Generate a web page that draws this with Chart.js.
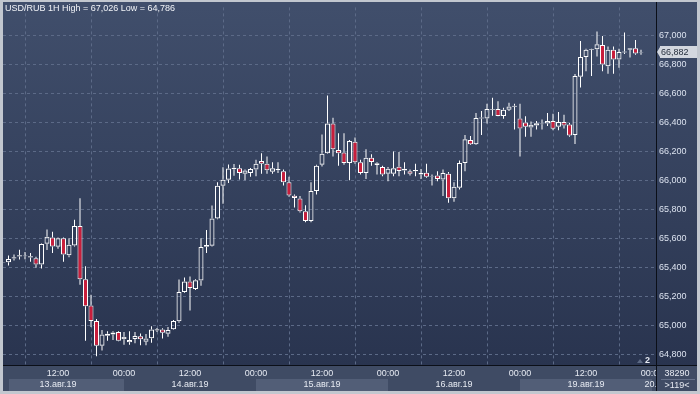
<!DOCTYPE html>
<html><head><meta charset="utf-8">
<script src="https://cdn.jsdelivr.net/npm/chart.js@4/dist/chart.umd.min.js"></script>
<style>html,body{margin:0;padding:0;background:#c2c7cf;}canvas{display:block}</style>
</head><body>
<canvas id="c" width="700" height="394"></canvas>
<script>
// Hourly candles, slot -1 = 13.08 02:00 (weekend skipped: slot 93 = 19.08 00:00)
const firstSlot = -1;
const opens = [65430,
 65434,65459,65473,65475,65466,65462,65419,65561,65604,65541,65600,65482,65550,65684,65317,65135,65029,64857,64927,64936,
 64952,64902,64882,64905,64923,64886,64909,64963,64970,64941,64972,65027,65228,65301,65249,65308,65541,65548,65736,65962,
 66003,66075,66082,66045,66050,66073,66132,66114,66059,66068,66061,65986,65893,65873,65786,65718,65925,66107,66186,66391,
 66209,66191,66118,66266,66123,66050,66154,66116,66091,66045,66045,66093,66079,66061,66061,66050,66052,66027,66032,66005,
 66045,65875,65948,66118,66277,66248,66425,66425,66486,66491,66443,66486,66507,66425,66398,66364,66377,66386,66391,66409,
 66368,66401,66385,66311,66714,66850,66899,66904,66933,66786,66899,66832,66881,66899,66911,66880];
const highs = [65434,
 65480,65487,65520,65505,65498,65471,65564,65659,65645,65604,65604,65600,65727,65876,65407,65210,65043,64966,64957,64957,
 64957,64952,64957,64952,64943,64939,64993,64981,64979,64988,65036,65314,65328,65335,65317,65600,65656,65826,65985,66089,
 66109,66112,66107,66073,66084,66141,66186,66164,66123,66123,66073,66023,65902,65891,65827,65986,66107,66316,66584,66430,
 66323,66323,66277,66295,66141,66214,66179,66123,66100,66091,66198,66195,66123,66073,66114,66077,66114,66039,66061,66073,
 66057,65986,66136,66311,66304,66464,66477,66527,66568,66545,66500,66534,66527,66527,66441,66405,66409,66418,66464,66459,
 66470,66451,66394,66732,66960,66906,66907,67026,66995,66922,66922,66906,67019,66911,66967,66899];
const lows = [65430,
 65412,65446,65453,65455,65437,65396,65391,65518,65498,65527,65437,65468,65543,65278,64893,64988,64786,64825,64893,64898,
 64889,64864,64864,64875,64861,64861,64879,64952,64907,64920,64968,65016,65224,65101,65242,65271,65498,65543,65731,65838,
 65980,66030,66004,66000,66023,66027,66045,66045,66045,66050,65964,65886,65811,65777,65709,65709,65902,66095,66182,66164,
 66100,66107,66000,66114,66039,66009,66100,66039,66027,65993,66027,66027,66039,66032,66027,66009,66016,65964,65993,65891,
 65845,65852,65936,66061,66243,66243,66311,66391,66445,66441,66423,66477,66350,66164,66300,66300,66350,66350,66373,66345,
 66345,66356,66299,66250,66639,66752,66718,66854,66752,66734,66734,66775,66870,66847,66865,66865];
const closes = [65434,
 65457,65468,65482,65480,65475,65419,65559,65609,65543,65600,65487,65554,65684,65317,65131,65029,64857,64936,64941,64950,
 64893,64920,64898,64925,64902,64907,64970,64972,64948,64966,65029,65228,65301,65256,65310,65539,65552,65736,65962,66003,
 66080,66086,66050,66066,66077,66114,66114,66068,66082,66077,65986,65895,65877,65786,65718,65925,66100,66182,66391,66214,
 66186,66118,66270,66123,66050,66154,66125,66105,66039,66079,66082,66064,66066,66045,66070,66039,66023,66023,66009,66050,
 65875,65954,66118,66282,66248,66429,66432,66491,66491,66443,66486,66509,66514,66357,66368,66382,66393,66391,66409,66355,
 66402,66378,66308,66718,66850,66899,66905,66938,66798,66899,66832,66884,66888,66911,66874,66882];

const tickSlots = [9,21,33,45,57,69,81,93,105,117];
const tickTimes = ["12:00","00:00","12:00","00:00","12:00","00:00","12:00","00:00","12:00","00:00"];
const dayStart = [0,21,45,69,93,117];
const dayEnd   = [21,45,69,93,117,125];
const dayLabelSlot = [9,33,57,81,105,119];
const dayLabels = ["13.авг.19","14.авг.19","15.авг.19","16.авг.19","19.авг.19","20.авг.19"];
const priceTicks = [64800,65000,65200,65400,65600,65800,66000,66200,66400,66600,66800,67000];
const titleText = "USD/RUB 1H High = 67,026 Low = 64,786";
const lastPrice = 66882;
const volumeText = "38290";
const countText = ">119<";

const FONT = '"Liberation Sans", Arial, sans-serif';
const RED = '#c81e3c';
const slots = opens.map((_, k) => k + firstSlot);

const bodyData = slots.map((s, k) => ({x: s, y: [Math.min(opens[k], closes[k]), Math.max(opens[k], closes[k])]}));
const upData = slots.map((s, k) => ({x: s, y: [Math.max(opens[k], closes[k]), highs[k]]}));
const lowData = slots.map((s, k) => ({x: s, y: [lows[k], Math.min(opens[k], closes[k])]}));
const bodyFill = slots.map((s, k) => closes[k] < opens[k] ? RED : 'rgba(0,0,0,0)');

const fmt = v => String(v).replace(/\B(?=(\d{3})+(?!\d))/g, ',');

const bgPlugin = {
  id: 'bg',
  beforeDraw(chart) {
    const {ctx, chartArea: a, scales: {x}} = chart;
    ctx.save();
    ctx.fillStyle = '#c2c7cf'; ctx.fillRect(0, 0, 700, 394);
    const g = ctx.createLinearGradient(0, a.top, 0, a.bottom);
    g.addColorStop(0, '#404e6b'); g.addColorStop(1, '#29344f');
    ctx.fillStyle = g; ctx.fillRect(3, 2, 694, a.bottom - 2);
    ctx.fillStyle = '#3f4b64'; ctx.fillRect(3, a.bottom, 694, 391 - a.bottom);
    ctx.save();
    ctx.beginPath(); ctx.rect(3, a.bottom, a.right - 3, 391 - a.bottom); ctx.clip();
    dayStart.forEach((s, k) => {
      if (k % 2 === 0) {
        const x0 = Math.round(x.getPixelForValue(s)), x1 = Math.round(x.getPixelForValue(dayEnd[k]));
        ctx.fillStyle = '#525e77'; ctx.fillRect(x0, 379, x1 - x0, 12);
      }
    });
    ctx.restore();
    ctx.restore();
  },
  afterDraw(chart) {
    const {ctx, chartArea: a, scales: {x, y}} = chart;
    ctx.save();
    ctx.beginPath(); ctx.rect(3, a.bottom, a.right - 4, 391 - a.bottom); ctx.clip();
    ctx.font = '9px ' + FONT; ctx.fillStyle = '#e6eaf2'; ctx.textAlign = 'center'; ctx.textBaseline = 'middle';
    tickSlots.forEach((s, k) => ctx.fillText(tickTimes[k], x.getPixelForValue(s), 373.5));
    dayLabelSlot.forEach((s, k) => ctx.fillText(dayLabels[k], x.getPixelForValue(s), 385));
    ctx.restore();
    ctx.save();
    ctx.fillStyle = '#0b0f18';
    ctx.fillRect(a.right - 1, 2, 1, 389);
    ctx.fillRect(3, a.bottom, 694, 1);
    ctx.font = '9px ' + FONT; ctx.fillStyle = '#e6eaf2'; ctx.textAlign = 'center'; ctx.textBaseline = 'middle';
    ctx.fillText(volumeText, 677, 373.5);
    ctx.fillText(countText, 677, 385.5);
    ctx.fillStyle = '#66718a'; ctx.fillRect(661, 379, 34, 1);
    ctx.textAlign = 'left'; ctx.fillStyle = '#f2f4f8';
    ctx.fillText(titleText, 5, 9);
    ctx.fillStyle = '#5c6983';
    ctx.beginPath(); ctx.moveTo(637, 363); ctx.lineTo(640, 359); ctx.lineTo(643, 363); ctx.closePath(); ctx.fill();
    ctx.fillStyle = '#e6eaf2'; ctx.font = 'bold 9px ' + FONT;
    ctx.fillText('2', 645, 361);
    const py = Math.round(y.getPixelForValue(lastPrice));
    ctx.fillStyle = '#d3d7df';
    ctx.beginPath();
    ctx.moveTo(657, py); ctx.lineTo(660, py - 5); ctx.lineTo(660, py - 6); ctx.lineTo(697, py - 6);
    ctx.lineTo(697, py + 6); ctx.lineTo(660, py + 6); ctx.lineTo(660, py + 5); ctx.closePath(); ctx.fill();
    ctx.fillStyle = '#27303f'; ctx.font = '9px ' + FONT;
    ctx.fillText(fmt(lastPrice), 661, py + 0.5);
    ctx.restore();
  }
};

new Chart(document.getElementById('c'), {
  type: 'bar',
  data: {
    datasets: [
      {data: upData, backgroundColor: '#ffffff', borderWidth: 0, barThickness: 1, grouped: false, inflateAmount: 0},
      {data: lowData, backgroundColor: '#ffffff', borderWidth: 0, barThickness: 1, grouped: false, inflateAmount: 0},
      {data: bodyData, backgroundColor: bodyFill, borderColor: '#ffffff', borderWidth: 1, borderSkipped: false,
       barThickness: 5, grouped: false, inflateAmount: 0}
    ]
  },
  options: {
    responsive: false, devicePixelRatio: 1, animation: false, events: [],
    layout: {padding: {left: 3, top: 2, right: 3, bottom: 3}},
    plugins: {legend: {display: false}, tooltip: {enabled: false}},
    scales: {
      x: {
        type: 'linear', offset: false, min: -1, max: 117.909,
        afterBuildTicks: s => { s.ticks = tickSlots.map(v => ({value: v})); },
        afterFit: s => { s.height = 26; },
        ticks: {display: false},
        grid: {color: '#5c6a87', drawTicks: false, lineWidth: 1},
        border: {display: false, dash: [3, 3]}
      },
      y: {
        type: 'linear', position: 'right', min: 64725, max: 67192,
        afterBuildTicks: s => { s.ticks = priceTicks.map(v => ({value: v})); },
        afterFit: s => { s.width = 40; },
        ticks: {padding: 2, color: '#dbe2ef', font: {family: FONT, size: 9}, callback: v => fmt(v)},
        grid: {color: '#5c6a87', drawTicks: false, lineWidth: 1},
        border: {display: false, dash: [3, 3]}
      }
    }
  },
  plugins: [bgPlugin]
});
</script>
</body></html>
